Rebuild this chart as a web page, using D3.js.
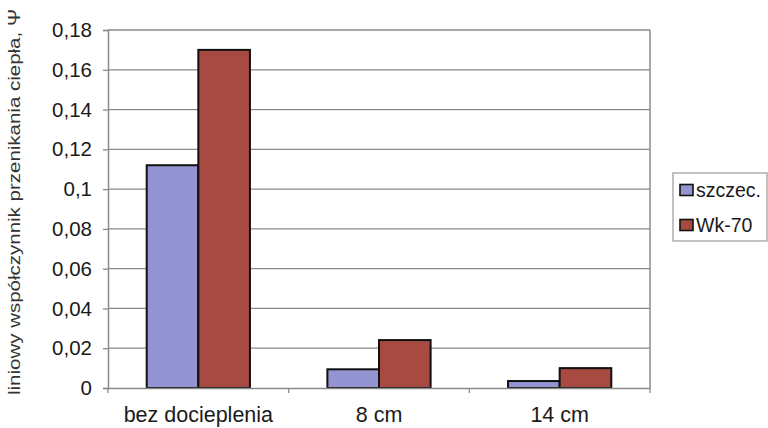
<!DOCTYPE html>
<html>
<head>
<meta charset="utf-8">
<script src="https://cdn.jsdelivr.net/npm/d3@7"></script>
<style>
  html, body { margin: 0; padding: 0; background: #fff; }
  svg { display: block; font-family: Arial, "Liberation Sans", sans-serif; }
</style>
</head>
<body>
<svg id="chart" width="768" height="428"></svg>
<script>
// Thermal bridge coefficient by insulation thickness
const categories = ["bez docieplenia", "8 cm", "14 cm"];
const seriesNames = ["szczec.", "Wk-70"];
const szczecValues = [0.112, 0.0094, 0.0035];
const wk70Values = [0.170, 0.0241, 0.0100];
const yTicks = [0, 0.02, 0.04, 0.06, 0.08, 0.1, 0.12, 0.14, 0.16, 0.18];
const yTitle = "liniowy współczynnik przenikania ciepła, Ψ";

const colors = ["#9494d2", "#a64a42"];
const series = [szczecValues, wk70Values];

const svg = d3.select("#chart");
const plot = { left: 108, right: 650, top: 30, bottom: 388 };

const x = d3.scaleBand().domain(categories).range([plot.left, plot.right]).paddingInner(0).paddingOuter(0);
const gap = 1.5; // gap width relative to one bar
const barW = x.bandwidth() / (series.length + gap);
const y = d3.scaleLinear().domain([0, 0.18]).range([plot.bottom, plot.top]);

const fmt = v => String(+v.toFixed(2)).replace(".", ",");
const font = "Arial, 'Liberation Sans', sans-serif";

// Gridlines
svg.append("g")
  .selectAll("line")
  .data(yTicks.filter(t => t > 0))
  .join("line")
  .attr("x1", plot.left).attr("x2", plot.right)
  .attr("y1", d => y(d)).attr("y2", d => y(d))
  .attr("stroke", "#8a8a8a").attr("stroke-width", 1.3);

// Plot area border (right side)
svg.append("line")
  .attr("x1", plot.right).attr("x2", plot.right)
  .attr("y1", plot.top).attr("y2", plot.bottom)
  .attr("stroke", "#8a8a8a").attr("stroke-width", 1.5);

// Bars
series.forEach((vals, si) => {
  svg.append("g")
    .selectAll("rect")
    .data(categories.map((c, i) => ({ c, v: vals[i] })))
    .join("rect")
    .attr("x", d => x(d.c) + barW * (gap / 2 + si))
    .attr("width", barW)
    .attr("y", d => y(d.v))
    .attr("height", d => y(0) - y(d.v))
    .attr("fill", colors[si])
    .attr("stroke", "#111")
    .attr("stroke-width", 2);
});

// Y axis
const yAxis = d3.axisLeft(y).tickValues(yTicks).tickFormat(fmt).tickSize(5).tickPadding(11);
const gy = svg.append("g").attr("transform", `translate(${plot.left},0)`).call(yAxis);
gy.select(".domain").attr("stroke", "#8a8a8a").attr("stroke-width", 1.5);
gy.selectAll(".tick line").attr("stroke", "#8a8a8a").attr("stroke-width", 1.3);
gy.selectAll(".tick text").attr("font-size", 20.5).attr("fill", "#1a1a1a")
  .attr("font-family", font);

// X axis
const xAxis = d3.axisBottom(x).tickSize(0).tickPadding(19);
const gx = svg.append("g").attr("transform", `translate(0,${plot.bottom})`).call(xAxis);
gx.select(".domain").attr("stroke", "#8a8a8a").attr("stroke-width", 1.5);
gx.selectAll(".tick text").attr("font-size", 21.5).attr("fill", "#1a1a1a")
  .attr("font-family", font);
// Category separator ticks
svg.append("g")
  .selectAll("line")
  .data(d3.range(categories.length + 1))
  .join("line")
  .attr("x1", i => plot.left + i * x.step()).attr("x2", i => plot.left + i * x.step())
  .attr("y1", plot.bottom).attr("y2", plot.bottom + 5)
  .attr("stroke", "#8a8a8a").attr("stroke-width", 1.3);

// Y axis title
svg.append("text")
  .attr("transform", `translate(20,${(8 + 396) / 2}) rotate(-90)`)
  .attr("text-anchor", "middle")
  .attr("font-size", 16.5)
  .attr("textLength", 386)
  .attr("lengthAdjust", "spacingAndGlyphs")
  .attr("fill", "#333")
  .text(yTitle);

// Legend
const lg = svg.append("g").attr("transform", "translate(673,173)");
lg.append("rect").attr("width", 94).attr("height", 68)
  .attr("fill", "#fff").attr("stroke", "#999").attr("stroke-width", 1.2);
seriesNames.forEach((name, i) => {
  const row = lg.append("g").attr("transform", `translate(7,${16 + i * 35})`);
  row.append("rect").attr("x", 0).attr("y", -4.5).attr("width", 13).attr("height", 11)
    .attr("fill", colors[i]).attr("stroke", "#111").attr("stroke-width", 1.6);
  row.append("text").attr("x", 16).attr("y", 8)
    .attr("font-size", 19.5).attr("fill", "#1a1a1a").text(name);
});
</script>
</body>
</html>
